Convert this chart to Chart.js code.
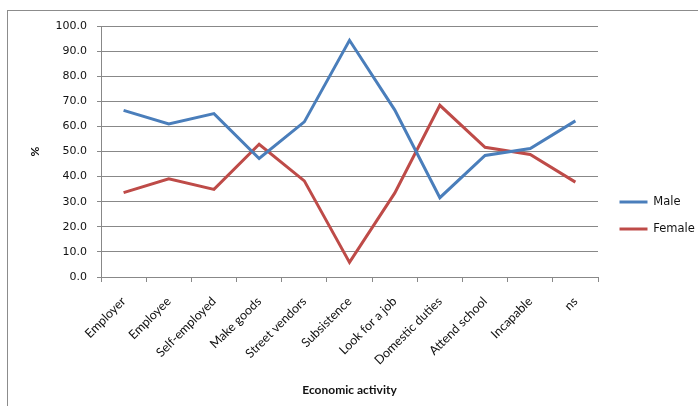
<!DOCTYPE html>
<html>
<head>
<meta charset="utf-8">
<script src="https://cdn.jsdelivr.net/npm/chart.js@4"></script>
<style>
  body { margin: 0; background: #fff; }
  #wrap { position: relative; width: 698px; height: 406px; }
</style>
</head>
<body>
<div id="wrap"><canvas id="chart" width="698" height="406"></canvas></div>
<script>
const categories = ['Employer', 'Employee', 'Self-employed', 'Make goods', 'Street vendors',
    'Subsistence', 'Look for a job', 'Domestic duties', 'Attend school', 'Incapable', 'ns'];
const maleValues = [66.4, 61.0, 65.1, 47.2, 61.8, 94.3, 66.6, 31.6, 48.4, 51.2, 62.2];
const femaleValues = [33.6, 39.1, 34.9, 52.9, 38.3, 5.8, 33.4, 68.4, 51.7, 48.8, 37.8];
const yTicks = [0, 10, 20, 30, 40, 50, 60, 70, 80, 90, 100];

const labelFont = 'Lato, "Open Sans", sans-serif';
const numFont = '"DejaVu Sans", Verdana, sans-serif';

// outer frame like the spreadsheet chart area
const framePlugin = {
    id: 'frame',
    beforeDraw(chart) {
        const ctx = chart.ctx;
        ctx.save();
        ctx.fillStyle = '#fff';
        ctx.fillRect(0, 0, chart.width, chart.height);
        ctx.strokeStyle = '#8c8c8c';
        ctx.lineWidth = 1;
        ctx.strokeRect(7.5, 10.5, chart.width + 10, chart.height + 10);
        ctx.restore();
    }
};

// nudge the legend a bit away from the plot without resizing the plot
const legendNudge = {
    id: 'legendNudge',
    afterLayout(chart) {
        const lg = chart.legend;
        if (!lg) return;
        lg.left += 6;
        lg.right += 6;
        lg.top += 2;
        lg.bottom += 2;
    }
};

const ctx = document.getElementById('chart').getContext('2d');
new Chart(ctx, {
    type: 'line',
    data: {
        labels: categories,
        datasets: [{
            label: 'Male',
            data: maleValues,
            borderColor: '#4a7ebb',
            backgroundColor: '#4a7ebb',
            borderWidth: 3,
            pointRadius: 0,
            tension: 0
        }, {
            label: 'Female',
            data: femaleValues,
            borderColor: '#be4b48',
            backgroundColor: '#be4b48',
            borderWidth: 3,
            pointRadius: 0,
            tension: 0
        }]
    },
    options: {
        responsive: false,
        animation: false,
        layout: { padding: { left: 0, top: 26, right: 0, bottom: 5 } },
        plugins: {
            legend: {
                position: 'right',
                maxWidth: 100,
                labels: {
                    usePointStyle: true,
                    pointStyle: 'line',
                    pointStyleWidth: 28,
                    color: '#111',
                    font: { family: numFont, size: 11.5 },
                    padding: 15.5
                }
            },
            tooltip: { enabled: false }
        },
        scales: {
            x: {
                offset: true,
                grid: {
                    offset: true,
                    drawOnChartArea: false,
                    tickLength: 5,
                    color: '#888'
                },
                border: { color: '#888' },
                ticks: {
                    maxRotation: 45,
                    minRotation: 45,
                    color: '#111',
                    font: { family: labelFont, size: 12.5 },
                    padding: 12
                },
                title: {
                    display: true,
                    text: 'Economic activity',
                    color: '#111',
                    font: { family: labelFont, size: 12, weight: 'bold' },
                    padding: { top: 0, bottom: 4 }
                },
                afterFit(axis) { axis.height = 124; }
            },
            y: {
                min: 0,
                max: 100,
                afterBuildTicks(axis) {
                    axis.ticks = yTicks.map(v => ({ value: v }));
                },
                grid: {
                    color: '#888',
                    tickLength: 4
                },
                border: { color: '#888' },
                ticks: {
                    color: '#111',
                    font: { family: numFont, size: 11 },
                    padding: 10,
                    callback: v => Number(v).toFixed(1)
                },
                title: {
                    display: true,
                    text: '%',
                    color: '#111',
                    font: { family: labelFont, size: 12, weight: 'bold' },
                    padding: { top: 28, bottom: 0 }
                },
                afterFit(axis) { axis.width = 101; }
            }
        }
    },
    plugins: [framePlugin, legendNudge]
});
</script>
</body>
</html>
